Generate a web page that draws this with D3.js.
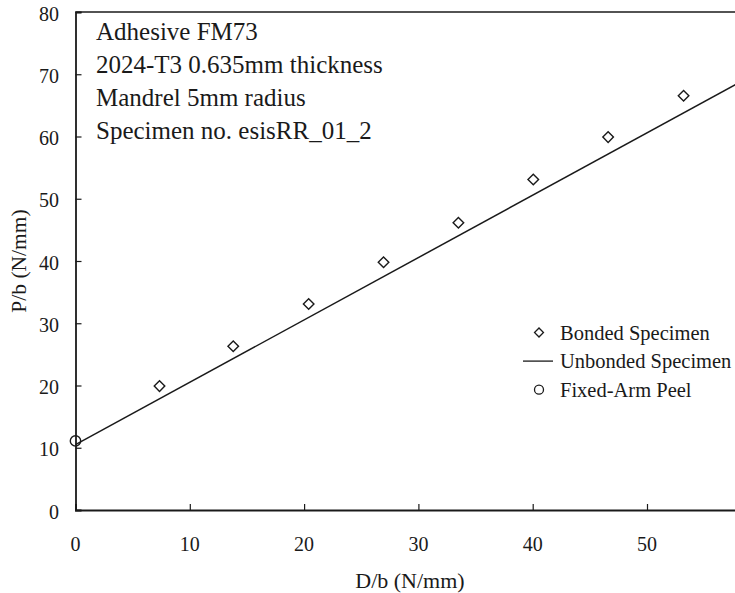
<!DOCTYPE html>
<html>
<head>
<meta charset="utf-8">
<script src="https://cdn.jsdelivr.net/npm/d3@7"></script>
<style>
  body { margin: 0; background: #fff; }
  svg { display: block; font-family: "Liberation Serif", "Times New Roman", serif; }
</style>
</head>
<body>
<div id="chart"></div>
<script>
// Bonded specimen points
const bondedX = [7.35, 13.8, 20.4, 26.95, 33.5, 40.05, 46.6, 53.2];
const bondedY = [19.9, 26.3, 33.1, 39.8, 46.15, 53.1, 59.9, 66.55];

// Unbonded specimen line (two end points)
const unbondedX = [0, 60];
const unbondedY = [10.5, 70.6];

// Fixed-arm peel point
const fixedX = [0];
const fixedY = [11.1];

const xTicks = [0, 10, 20, 30, 40, 50];
const yTicks = [0, 10, 20, 30, 40, 50, 60, 70, 80];

const notes = [
  "Adhesive FM73",
  "2024-T3 0.635mm thickness",
  "Mandrel 5mm radius",
  "Specimen no. esisRR_01_2"
];

const legendItems = ["Bonded Specimen", "Unbonded Specimen", "Fixed-Arm Peel"];

const W = 735, H = 593;
const ink = "#1a1a1a";

const svg = d3.select("#chart").append("svg")
  .attr("width", W)
  .attr("height", H);

// plot runs off the right edge of the picture, like the original
const x = d3.scaleLinear().domain([0, 60]).range([75.5, 761.3]);
const y = d3.scaleLinear().domain([0, 80]).range([510, 12]);

// top frame line
svg.append("line")
  .attr("x1", x(0)).attr("x2", W)
  .attr("y1", y(80)).attr("y2", y(80))
  .attr("stroke", ink).attr("stroke-width", 1.6);

// axes, ticks inward
const xAxis = svg.append("g")
  .attr("transform", `translate(0,${y(0)})`)
  .call(d3.axisTop(x).tickValues(xTicks).tickSize(6).tickFormat(""));
const yAxis = svg.append("g")
  .attr("transform", `translate(${x(0)},0)`)
  .call(d3.axisRight(y).tickValues(yTicks).tickSize(6).tickFormat(""));

[xAxis, yAxis].forEach(a => {
  a.select(".domain").attr("stroke", ink).attr("stroke-width", 1.8);
  a.selectAll(".tick line").attr("stroke", ink).attr("stroke-width", 1.2);
});

// tick labels
svg.append("g").selectAll("text")
  .data(xTicks)
  .enter().append("text")
  .attr("x", d => x(d))
  .attr("y", 551)
  .attr("text-anchor", "middle")
  .attr("font-size", 20)
  .attr("fill", ink)
  .text(d => d);

svg.append("g").selectAll("text")
  .data(yTicks)
  .enter().append("text")
  .attr("x", 59)
  .attr("y", d => y(d) + 8.5)
  .attr("text-anchor", "end")
  .attr("font-size", 20)
  .attr("fill", ink)
  .text(d => d);

// axis titles
svg.append("text")
  .attr("x", 410).attr("y", 588)
  .attr("text-anchor", "middle")
  .attr("font-size", 22)
  .attr("fill", ink)
  .text("D/b (N/mm)");

svg.append("text")
  .attr("transform", "translate(26,261) rotate(-90)")
  .attr("text-anchor", "middle")
  .attr("font-size", 21.5)
  .attr("fill", ink)
  .text("P/b (N/mm)");

// unbonded line
const line = d3.line()
  .x(d => x(d[0]))
  .y(d => y(d[1]));

svg.append("path")
  .datum(d3.zip(unbondedX, unbondedY))
  .attr("fill", "none")
  .attr("stroke", ink)
  .attr("stroke-width", 1.5)
  .attr("d", line);

// bonded diamonds
const diamond = d3.symbol().type(d3.symbolSquare).size(56);
svg.append("g").selectAll("path")
  .data(d3.zip(bondedX, bondedY))
  .enter().append("path")
  .attr("d", diamond)
  .attr("transform", d => `translate(${x(d[0])},${y(d[1])}) rotate(45)`)
  .attr("fill", "#fff")
  .attr("stroke", ink)
  .attr("stroke-width", 1.4);

// fixed-arm circle
svg.append("g").selectAll("circle")
  .data(d3.zip(fixedX, fixedY))
  .enter().append("circle")
  .attr("cx", d => x(d[0]))
  .attr("cy", d => y(d[1]))
  .attr("r", 5.2)
  .attr("fill", "none")
  .attr("stroke", ink)
  .attr("stroke-width", 1.4);

// notes in top-left
svg.append("g").selectAll("text")
  .data(notes)
  .enter().append("text")
  .attr("x", 96)
  .attr("y", (d, i) => 40 + i * 33)
  .attr("font-size", 25)
  .attr("fill", ink)
  .text(d => d);

// legend
const lg = svg.append("g").attr("transform", "translate(539,332.5)");
const rowH = 28.6;

lg.append("path")
  .attr("d", d3.symbol().type(d3.symbolSquare).size(40))
  .attr("transform", "rotate(45)")
  .attr("fill", "#fff").attr("stroke", ink).attr("stroke-width", 1.3);

lg.append("line")
  .attr("x1", -16).attr("x2", 14)
  .attr("y1", rowH).attr("y2", rowH)
  .attr("stroke", ink).attr("stroke-width", 1.3);

lg.append("circle")
  .attr("cx", 0).attr("cy", rowH * 2)
  .attr("r", 4.5)
  .attr("fill", "none").attr("stroke", ink).attr("stroke-width", 1.3);

lg.selectAll("text")
  .data(legendItems)
  .enter().append("text")
  .attr("x", 21)
  .attr("y", (d, i) => i * rowH + 7)
  .attr("font-size", 20.5)
  .attr("fill", ink)
  .text(d => d);
</script>
</body>
</html>
